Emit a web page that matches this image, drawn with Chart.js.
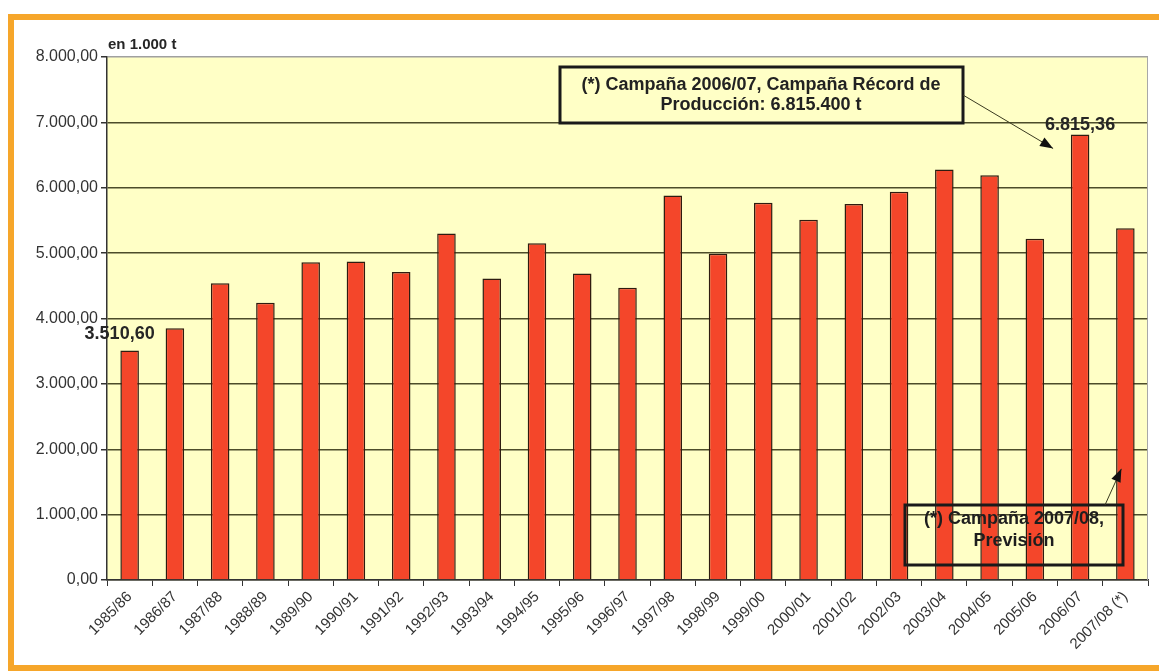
<!DOCTYPE html>
<html lang="es">
<head>
<meta charset="utf-8">
<title>Producción por campaña</title>
<script src="https://cdn.jsdelivr.net/npm/chart.js@4/dist/chart.umd.min.js"></script>
<style>
  html, body { margin: 0; padding: 0; background: #fff; }
  #grafico { display: block; }
</style>
</head>
<body>
<canvas id="grafico" width="1159" height="672"></canvas>
<script>
// datos de la grafica (en 1.000 t)
const campanas = [
  "1985/86", "1986/87", "1987/88", "1988/89", "1989/90", "1990/91",
  "1991/92", "1992/93", "1993/94", "1994/95", "1995/96", "1996/97",
  "1997/98", "1998/99", "1999/00", "2000/01", "2001/02", "2002/03",
  "2003/04", "2004/05", "2005/06", "2006/07", "2007/08 (*)"
];
const produccion = [
  3510.60, 3850, 4540, 4240, 4860, 4870,
  4710, 5300, 4610, 5150, 4690, 4470,
  5880, 4990, 5770, 5510, 5750, 5940,
  6280, 6190, 5220, 6815.36, 5380
];
const ticksY = [0, 1000, 2000, 3000, 4000, 5000, 6000, 7000, 8000];
const etiquetados = [0, 21];   // barras con su valor escrito
const unidad = "en 1.000 t";
const notaRecord = ["(*) Campaña 2006/07, Campaña Récord de", "Producción: 6.815.400 t"];
const notaPrevision = ["(*) Campaña 2007/08,", "Previsión"];

const FUENTE = "'Liberation Sans', Arial, sans-serif";
const FONDO = "#ffffc6";

function formato(v) {
  const [ent, dec] = v.toFixed(2).split(".");
  return ent.replace(/\B(?=(\d{3})+(?!\d))/g, ".") + "," + dec;
}

function flecha(ctx, x1, y1, x2, y2) {
  ctx.save();
  ctx.strokeStyle = "#3a3a20";
  ctx.lineWidth = 1;
  ctx.beginPath();
  ctx.moveTo(x1, y1);
  ctx.lineTo(x2, y2);
  ctx.stroke();
  const ang = Math.atan2(y2 - y1, x2 - x1);
  ctx.fillStyle = "#111";
  ctx.beginPath();
  ctx.moveTo(x2, y2);
  ctx.lineTo(x2 - 13 * Math.cos(ang) + 5 * Math.sin(ang), y2 - 13 * Math.sin(ang) - 5 * Math.cos(ang));
  ctx.lineTo(x2 - 13 * Math.cos(ang) - 5 * Math.sin(ang), y2 - 13 * Math.sin(ang) + 5 * Math.cos(ang));
  ctx.closePath();
  ctx.fill();
  ctx.restore();
}

const decorado = {
  id: "decorado",
  beforeDraw(chart) {
    const { ctx, chartArea: a } = chart;
    ctx.save();
    ctx.fillStyle = "#fff";
    ctx.fillRect(0, 0, chart.width, chart.height);
    // marco naranja (el lado derecho queda fuera de la imagen)
    ctx.strokeStyle = "#f6a62a";
    ctx.lineWidth = 6;
    ctx.strokeRect(11, 17, 1160, 651);
    // fondo del area de trazado
    ctx.fillStyle = FONDO;
    ctx.fillRect(a.left, a.top, a.right - a.left, a.bottom - a.top);
    ctx.restore();
  },
  afterDatasetsDraw(chart) {
    const { ctx, chartArea: a } = chart;
    const meta = chart.getDatasetMeta(0);
    ctx.save();
    ctx.strokeStyle = "#a8a8a8";
    ctx.lineWidth = 1;
    ctx.beginPath();
    ctx.moveTo(a.right - 0.5, a.top);
    ctx.lineTo(a.right - 0.5, a.bottom);
    ctx.stroke();

    ctx.fillStyle = "#262626";
    ctx.font = "bold 18px " + FUENTE;
    ctx.textAlign = "center";
    ctx.textBaseline = "middle";
    etiquetados.forEach(i => {
      const b = meta.data[i];
      const dx = i === 0 ? -10 : 0;
      const dy = i === 0 ? -16 : -9;
      ctx.fillText(formato(produccion[i]), b.x + dx, b.y + dy);
    });

    ctx.font = "bold 15px " + FUENTE;
    ctx.textAlign = "left";
    ctx.textBaseline = "alphabetic";
    ctx.fillText(unidad, a.left + 1, a.top - 8);
    ctx.restore();
  },
  afterDraw(chart) {
    const { ctx } = chart;
    const xs = chart.scales.x, ys = chart.scales.y;
    ctx.save();
    // nota campaña record
    ctx.fillStyle = FONDO;
    ctx.fillRect(560, 67, 403, 56);
    ctx.strokeStyle = "#1a1a1a";
    ctx.lineWidth = 3;
    ctx.strokeRect(560, 67, 403, 56);
    ctx.fillStyle = "#222";
    ctx.font = "bold 18px " + FUENTE;
    ctx.textAlign = "center";
    ctx.textBaseline = "middle";
    ctx.fillText(notaRecord[0], 761, 85);
    ctx.fillText(notaRecord[1], 761, 105);
    flecha(ctx, 963, 95, xs.getPixelForValue(21) - 27, ys.getPixelForValue(produccion[21]) + 14);

    // nota prevision (sin relleno: se ven las barras detras)
    ctx.strokeStyle = "#1a1a1a";
    ctx.lineWidth = 3;
    ctx.strokeRect(905, 505, 218, 60);
    ctx.fillStyle = "#1e1e1e";
    ctx.fillText(notaPrevision[0], 1014, 519);
    ctx.fillText(notaPrevision[1], 1014, 541);
    flecha(ctx, 1105, 505, xs.getPixelForValue(22) - 4, ys.getPixelForValue(1700));
    ctx.restore();
  }
};

const ctx = document.getElementById("grafico").getContext("2d");
new Chart(ctx, {
  type: "bar",
  data: {
    labels: campanas,
    datasets: [{
      data: produccion,
      backgroundColor: "#f4462a",
      borderColor: "#2e1c10",
      borderWidth: 1.5,
      borderSkipped: "bottom",
      barPercentage: 0.41,
      categoryPercentage: 1
    }]
  },
  options: {
    responsive: false,
    animation: false,
    layout: { padding: { left: 8, top: 57, right: 11, bottom: 0 } },
    plugins: {
      legend: { display: false },
      tooltip: { enabled: false }
    },
    scales: {
      x: {
        offset: true,
        afterFit: s => { s.height = 92; },
        grid: {
          offset: true,
          drawOnChartArea: false,
          drawTicks: true,
          tickLength: 6,
          color: "#333"
        },
        border: { display: true, color: "#333", width: 1.5 },
        ticks: {
          autoSkip: false,
          maxRotation: 45,
          minRotation: 45,
          padding: 2,
          color: "#333",
          font: { family: FUENTE, size: 15 }
        }
      },
      y: {
        min: 0,
        max: 8000,
        afterFit: s => { s.width = 99; },
        afterBuildTicks: s => { s.ticks = ticksY.map(v => ({ value: v })); },
        grid: {
          color: c => (c.tick && c.tick.value === 8000) ? "#a0a0a0" : "#4d4d2a",
          lineWidth: 1.5,
          tickLength: 6,
          tickColor: "#333"
        },
        border: { display: true, color: "#333", width: 1.5 },
        ticks: {
          padding: 3,
          color: "#333",
          font: { family: FUENTE, size: 16 },
          callback: v => formato(v)
        }
      }
    }
  },
  plugins: [decorado]
});
</script>
</body>
</html>
